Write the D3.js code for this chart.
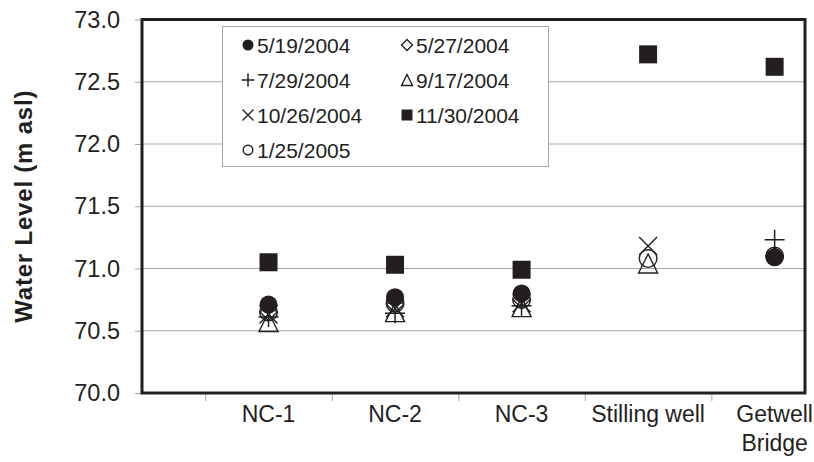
<!DOCTYPE html>
<html>
<head>
<meta charset="utf-8">
<script src="https://cdn.jsdelivr.net/npm/d3@7"></script>
<style>
  body { margin: 0; background: #fff; }
  text { font-family: "Liberation Sans", Arial, sans-serif; fill: #231f20; }
</style>
</head>
<body>
<div id="chart"></div>
<script>
// sites along the x axis (second line where the label wraps)
const sites = ["NC-1", "NC-2", "NC-3", "Stilling well", "Getwell\nBridge"];
const yTicks = [70.0, 70.5, 71.0, 71.5, 72.0, 72.5, 73.0];

// water levels per survey date, one value per site (null = not measured)
const d0519 = [70.71, 70.77, 70.80, null, 71.09];
const d0527 = [70.65, 70.71, 70.75, null, 71.10];
const d0729 = [70.61, 70.64, 70.70, null, 71.23];
const d0917 = [70.57, 70.65, 70.69, 71.04, null];
const d1026 = [70.63, 70.68, 70.72, 71.18, null];
const d1130 = [71.05, 71.03, 70.99, 72.72, 72.62];
const d0125 = [70.65, 70.72, 70.75, 71.08, 71.10];

const series = [
  {name: "5/19/2004", shape: "dot", vals: d0519},
  {name: "5/27/2004", shape: "diamond", vals: d0527},
  {name: "7/29/2004", shape: "plus", vals: d0729},
  {name: "9/17/2004", shape: "triangle", vals: d0917},
  {name: "10/26/2004", shape: "cross", vals: d1026},
  {name: "11/30/2004", shape: "square", vals: d1130},
  {name: "1/25/2005", shape: "circle", vals: d0125}
];

const W = 814, H = 462;
const ink = "#231f20";
const margin = {top: 19.5, right: 9, bottom: 69, left: 142};

const svg = d3.select("#chart").append("svg")
  .attr("width", W).attr("height", H);

const x = d3.scaleLinear().domain([0, 5.24]).range([margin.left, W - margin.right]);
const y = d3.scaleLinear().domain([70, 73]).range([H - margin.bottom, margin.top]);

// gridlines
svg.append("g").selectAll("line")
  .data(yTicks.slice(1, -1)).join("line")
  .attr("x1", x(0)).attr("x2", x(5.24))
  .attr("y1", d => y(d)).attr("y2", d => y(d))
  .attr("stroke", "#a6a6a6").attr("stroke-width", 1);

// y axis
const yAxis = svg.append("g")
  .attr("transform", "translate(" + margin.left + ",0)")
  .call(d3.axisLeft(y).tickValues(yTicks).tickFormat(d3.format(".1f")).tickSize(7).tickPadding(15));
yAxis.select(".domain").remove();
yAxis.selectAll(".tick line").attr("stroke", "#a6a6a6");
yAxis.selectAll(".tick text")
  .style("font-size", "23.5px").attr("fill", ink);

// x axis: ticks between sites, labels under each site
const xAxis = svg.append("g")
  .attr("transform", "translate(0," + y(70) + ")")
  .call(d3.axisBottom(x).tickValues([0.5, 1.5, 2.5, 3.5, 4.5]).tickFormat("").tickSize(8));
xAxis.select(".domain").remove();
xAxis.selectAll(".tick line").attr("stroke", "#a6a6a6");

const xl = svg.append("g").selectAll("text")
  .data(sites).join("text")
  .attr("x", (d, i) => x(i + 1))
  .attr("y", y(70) + 29)
  .attr("text-anchor", "middle")
  .style("font-size", "23px");
xl.each(function(d, i) {
  const lines = d.split("\n");
  d3.select(this).selectAll("tspan").data(lines).join("tspan")
    .attr("x", x(i + 1))
    .attr("dy", (l, j) => j === 0 ? 0 : 29)
    .text(l => l);
});

// plot frame
svg.append("rect")
  .attr("x", x(0)).attr("y", y(73))
  .attr("width", x(5.24) - x(0)).attr("height", y(70) - y(73))
  .attr("fill", "none").attr("stroke", ink).attr("stroke-width", 3);

// y title
svg.append("text")
  .attr("transform", "translate(32," + ((y(70) + y(73)) / 2) + ") rotate(-90)")
  .attr("text-anchor", "middle")
  .style("font-size", "24px").style("font-weight", "bold")
  .style("letter-spacing", "0.8px")
  .text("Water Level (m asl)");

// marker drawing
function marker(g, shape, s) {
  const h = s / 2;
  if (shape === "dot") {
    g.append("circle").attr("r", h).attr("fill", ink);
  } else if (shape === "circle") {
    g.append("circle").attr("r", h - 0.7).attr("fill", "none").attr("stroke", ink).attr("stroke-width", 1.4);
  } else if (shape === "square") {
    g.append("rect").attr("x", -h).attr("y", -h).attr("width", s).attr("height", s).attr("fill", ink);
  } else if (shape === "diamond") {
    g.append("path").attr("d", "M0," + (-h) + "L" + h + ",0L0," + h + "L" + (-h) + ",0Z")
      .attr("fill", "none").attr("stroke", ink).attr("stroke-width", 1.4);
  } else if (shape === "triangle") {
    g.append("path").attr("d", "M0," + (-h) + "L" + h + "," + h + "L" + (-h) + "," + h + "Z")
      .attr("fill", "none").attr("stroke", ink).attr("stroke-width", 1.4);
  } else if (shape === "plus") {
    g.append("path").attr("d", "M0," + (-h) + "V" + h + "M" + (-h) + ",0H" + h)
      .attr("fill", "none").attr("stroke", ink).attr("stroke-width", 1.5);
  } else if (shape === "cross") {
    g.append("path").attr("d", "M" + (-h) + "," + (-h) + "L" + h + "," + h + "M" + h + "," + (-h) + "L" + (-h) + "," + h)
      .attr("fill", "none").attr("stroke", ink).attr("stroke-width", 1.4);
  }
}

const plotSize = {dot: 18, circle: 19, square: 18, diamond: 17, triangle: 19, plus: 20, cross: 18};

series.forEach(function(s) {
  s.vals.forEach(function(v, i) {
    if (v == null) return;
    const g = svg.append("g").attr("transform", "translate(" + x(i + 1) + "," + y(v) + ")");
    marker(g, s.shape, plotSize[s.shape]);
  });
});

// legend
const lg = svg.append("g");
lg.append("rect")
  .attr("x", 222.5).attr("y", 26.5).attr("width", 326).attr("height", 140)
  .attr("fill", "#fff").attr("stroke", "#a6a6a6").attr("stroke-width", 1);
series.forEach(function(s, k) {
  const col = k % 2, row = Math.floor(k / 2);
  const gx = 248 + col * 159, gy = 45 + row * 35;
  const g = lg.append("g").attr("transform", "translate(" + gx + "," + gy + ")");
  marker(g, s.shape, s.shape === "plus" ? 13 : 11);
  lg.append("text")
    .attr("x", gx + 9).attr("y", gy).attr("dy", "0.36em")
    .style("font-size", "21px")
    .text(s.name);
});
</script>
</body>
</html>
